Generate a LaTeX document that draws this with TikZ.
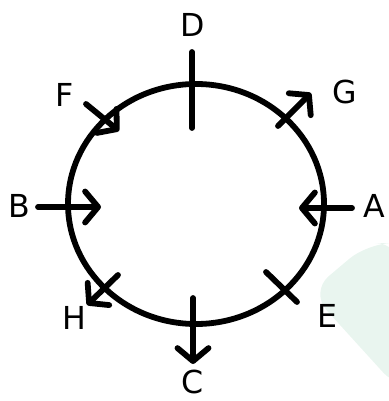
\documentclass[tikz,border=0pt]{standalone}
\usepackage{fontspec}
\setmainfont{DejaVu Sans}
\definecolor{markgreen}{RGB}{233,245,239}
\usetikzlibrary{arrows.meta}

\begin{document}
\begin{tikzpicture}[x=0.02cm,y=-0.02cm,
    ring/.style={line width=3.3pt},
    tick/.style={line width=3.3pt,line cap=round},
    arr/.style={tick,-{Straight Barb[length=2.6mm,width=6.2mm,line cap=round,line join=round]}},
    lbl/.style={font=\fontsize{18}{20}\selectfont,inner sep=0pt}]

  \useasboundingbox (0,0) rectangle (388,401);

  % Watermark
  \fill[markgreen,rounded corners=14] (400,243) -- (368,243) -- (310,292) -- (400,391) -- cycle;

  % Circle
  \draw[ring] (196,204) ellipse [x radius=128, y radius=120];

  % End points
  \coordinate (d1) at (192,52);   \coordinate (d2) at (192,128);
  \coordinate (c1) at (193,298);  \coordinate (c2) at (193,364);
  \coordinate (b1) at (38,207);   \coordinate (b2) at (101,207);
  \coordinate (a1) at (352,208);  \coordinate (a2) at (299,208);
  \coordinate (g1) at (278,126);  \coordinate (g2) at (311,93);
  \coordinate (f1) at (86,104);   \coordinate (f2) at (119,131);
  \coordinate (e1) at (266,272);  \coordinate (e2) at (297,302);
  \coordinate (h1) at (118,275);  \coordinate (h2) at (87,305);

  % Ticks
  \draw[tick] (d1) -- (d2);
  \draw[tick] (e1) -- (e2);
  \draw[arr] (c1) -- (c2);
  \draw[arr] (b1) -- (b2);
  \draw[arr] (a1) -- (a2);
  \draw[arr] (g1) -- (g2);
  \draw[arr] (f1) -- (f2);
  \draw[arr] (h1) -- (h2);

  % Labels
  \node[lbl] (D) at (193,25)  {D};
  \node[lbl] (C) at (193,382) {C};
  \node[lbl] (B) at (19,206)  {B};
  \node[lbl] (A) at (374,206) {A};
  \node[lbl] (G) at (345,92)  {G};
  \node[lbl] (F) at (65,95)   {F};
  \node[lbl] (E) at (327,316) {E};
  \node[lbl] (H) at (74,318)  {H};
\end{tikzpicture}
\end{document}
